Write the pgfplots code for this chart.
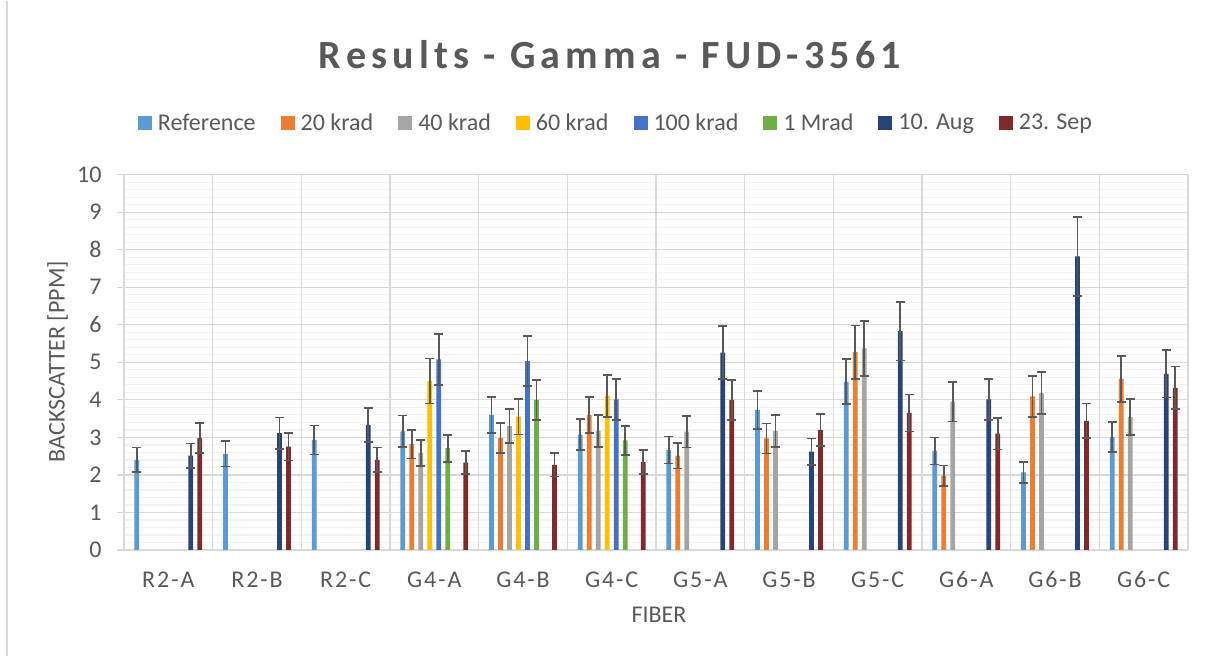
\documentclass[border=0pt]{standalone}
\usepackage{pgfplots}
\pgfplotsset{compat=1.18}
\usepackage{pgfplotstable}
\usepackage{fontspec}
\setmainfont{Carlito}
\newfontfamily\titlefont[LetterSpace=13]{Carlito}
\newfontfamily\catfont[LetterSpace=8]{Carlito}
\definecolor{txt}{HTML}{595959}
\definecolor{gmaj}{HTML}{D9D9D9}
\definecolor{gmin}{HTML}{F2F2F2}
\definecolor{cRef}{HTML}{5B9BD5}
\definecolor{cA}{HTML}{ED7D31}
\definecolor{cB}{HTML}{A5A5A5}
\definecolor{cC}{HTML}{FFC000}
\definecolor{cD}{HTML}{4472C4}
\definecolor{cE}{HTML}{70AD47}
\definecolor{cF}{HTML}{264478}
\definecolor{cG}{HTML}{7F2A2A}

\pgfplotstableread{
x y e
0 2.40 0.33
1 2.56 0.34
2 2.93 0.39
3 3.16 0.42
4 3.60 0.48
5 3.07 0.41
6 2.66 0.36
7 3.73 0.50
8 4.48 0.60
9 2.64 0.36
10 2.07 0.28
11 3.01 0.40
}\tRef
\pgfplotstableread{
x y e
3 2.82 0.38
4 2.98 0.40
5 3.59 0.48
6 2.51 0.34
7 2.97 0.40
8 5.27 0.71
9 1.98 0.27
10 4.09 0.55
11 4.56 0.61
}\tA
\pgfplotstableread{
x y e
3 2.58 0.35
4 3.30 0.45
5 3.17 0.42
6 3.15 0.42
7 3.17 0.43
8 5.37 0.73
9 3.95 0.53
10 4.18 0.56
11 3.54 0.48
}\tB
\pgfplotstableread{
x y e
3 4.50 0.60
4 3.55 0.47
5 4.11 0.56
}\tC
\pgfplotstableread{
x y e
3 5.08 0.68
4 5.03 0.67
5 4.01 0.54
}\tD
\pgfplotstableread{
x y e
3 2.71 0.36
4 4.00 0.53
5 2.92 0.39
}\tE
\pgfplotstableread{
x y e
0 2.51 0.33
1 3.11 0.42
2 3.33 0.45
6 5.26 0.70
7 2.62 0.35
8 5.83 0.78
9 4.01 0.54
10 7.82 1.05
11 4.69 0.63
}\tF
\pgfplotstableread{
x y e
0 2.98 0.40
1 2.75 0.37
2 2.40 0.33
3 2.33 0.31
4 2.27 0.31
5 2.35 0.32
6 4.00 0.53
7 3.20 0.43
8 3.65 0.49
9 3.10 0.42
10 3.44 0.46
11 4.32 0.57
}\tG

\begin{document}
\begin{tikzpicture}[x=1pt,y=1pt]
\fill[white] (0,0) rectangle (1213,655);
\draw[gmaj, line width=1.3pt] (7,0) -- (7,655);
\begin{axis}[
  at={(124pt,105.7pt)}, anchor=south west,
  scale only axis, width=1064pt, height=375.3pt,
  ybar=4.3pt, bar width=4.7pt,
  xmin=-0.5, xmax=11.5, ymin=0, ymax=10,
  axis x line*=bottom, axis y line*=left,
  axis line style={draw=gmaj, line width=1.3pt},
  xtick={0,...,11},
  xticklabels={R2-A,R2-B,R2-C,G4-A,G4-B,G4-C,G5-A,G5-B,G5-C,G6-A,G6-B,G6-C},
  extra x ticks={-0.5,0.5,1.5,2.5,3.5,4.5,5.5,6.5,7.5,8.5,9.5,10.5,11.5},
  extra x tick labels={},
  extra x tick style={xmajorgrids=true, major tick length=0pt},
  x tick style={draw=none},
  ytick={0,...,10}, minor y tick num=4,
  ymajorgrids, yminorgrids,
  major grid style={draw=gmaj, line width=1.3pt},
  minor grid style={draw=gmin, line width=1.3pt},
  tick align=outside, major tick length=7pt, minor tick length=0pt,
  y tick style={draw=gmaj, line width=1.3pt},
  /pgf/number format/assume math mode=true,
  yticklabel style={font=\fontsize{24}{28}\selectfont, text=txt, anchor=east, xshift=-12pt},
  xticklabel style={font=\catfont\fontsize{24}{28}\selectfont, text=txt, anchor=base, yshift=-31pt},
  error bars/y dir=both, error bars/y explicit,
  error bars/error bar style={draw=txt, line width=1.7pt},
  error bars/error mark options={draw=txt, line width=1.7pt, mark size=4.5pt, rotate=90},
  legend style={at={(0.4624,1.1386)}, anchor=center, draw=none, fill=none,
    font=\fontsize{24}{28}\selectfont, text=txt,
    /tikz/every odd column/.append style={column sep=4pt},
    /tikz/every even column/.append style={column sep=23pt}},
  legend columns=8, legend cell align=left,
  legend image code/.code={\fill[#1] (0pt,-7pt) rectangle (14pt,7pt);},
]
\addplot[fill=cRef, draw=none] table[x=x,y=y,y error=e]{\tRef};
\addlegendentry{Reference}
\addplot[fill=cA, draw=none] table[x=x,y=y,y error=e]{\tA};
\addlegendentry{20 krad}
\addplot[fill=cB, draw=none] table[x=x,y=y,y error=e]{\tB};
\addlegendentry{40 krad}
\addplot[fill=cC, draw=none] table[x=x,y=y,y error=e]{\tC};
\addlegendentry{60 krad}
\addplot[fill=cD, draw=none] table[x=x,y=y,y error=e]{\tD};
\addlegendentry{100 krad}
\addplot[fill=cE, draw=none] table[x=x,y=y,y error=e]{\tE};
\addlegendentry{1 Mrad}
\addplot[fill=cF, draw=none] table[x=x,y=y,y error=e]{\tF};
\addlegendentry{10. Aug}
\addplot[fill=cG, draw=none] table[x=x,y=y,y error=e]{\tG};
\addlegendentry{23. Sep}
\end{axis}
\node[font=\titlefont\bfseries\fontsize{40}{44}\selectfont, text=txt, anchor=base] at (610,587) {Results - Gamma - FUD-3561};
\node[font=\fontsize{24}{28}\selectfont, text=txt, rotate=90, anchor=center] at (57.5,294) {BACKSCATTER [PPM]};
\node[font=\fontsize{24}{28}\selectfont, text=txt, anchor=base] at (659,33) {FIBER};
\end{tikzpicture}
\end{document}
